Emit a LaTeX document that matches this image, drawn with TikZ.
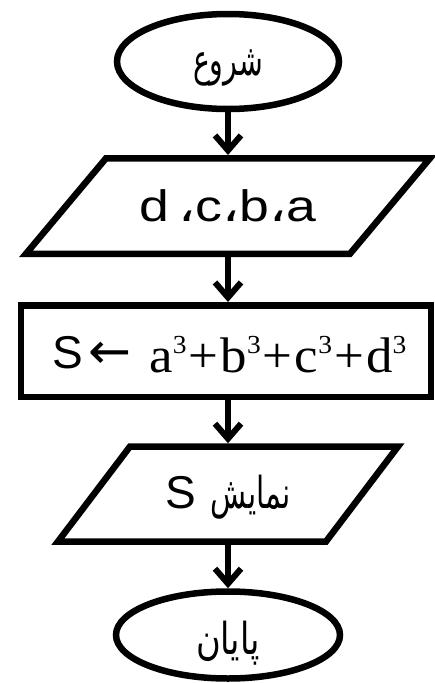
\documentclass[tikz,border=0pt]{standalone}
\usepackage{fontspec}
\usepackage{graphicx}
\setmainfont{Liberation Sans}
\newfontfamily\fa[Script=Arabic]{DejaVu Sans}
\newfontfamily\djv{DejaVu Sans}
\newfontfamily\tms{Liberation Serif}
\usetikzlibrary{shapes.geometric, arrows.meta}
\TeXXeTstate=1
\newcommand\cube{\raisebox{19pt}{\fontsize{26}{26}\selectfont 3}}
\newcommand\fabox[2]{\resizebox{#1}{\height}{\fa\fontsize{44}{44}\selectfont\beginR #2\endR}}
\begin{document}
\begin{tikzpicture}[x=1pt,y=-1pt,
  every node/.style={inner sep=0pt},
  shapeline/.style={line width=6.5pt, line join=miter},
  term/.style={ellipse, draw, shapeline},
  io/.style={outer sep=0pt},
  proc/.style={rectangle, draw, shapeline},
  conn/.style={line width=6pt, -{Straight Barb[length=15pt,width=26pt]}},
  toio/.style={conn, shorten >=3.25pt},
]
\useasboundingbox (0,0) rectangle (434,683);

\node[term, minimum width=222pt, minimum height=95pt, text height=40pt, text depth=13pt] (e1) at (228,61.5)
  {\fabox{70pt}{شروع}};

\node[io, minimum width=324pt, minimum height=95.5pt, text height=31pt, text depth=1pt] (p1) at (228,206)
  {\resizebox{177pt}{\height}{\fontsize{44}{44}\selectfont d\,{\fa ،}c{\fa ،}b{\fa ،}a}};
\draw[shapeline] ([xshift=40pt]p1.north west) -- ([xshift=40pt]p1.north east)
  -- ([xshift=-40pt]p1.south east) -- ([xshift=-40pt]p1.south west) -- cycle;

\node[proc, minimum width=410pt, minimum height=91.5pt, text height=42pt, text depth=0pt] (r) at (226,351)
  {\hspace{7pt}\raisebox{4pt}{\fontsize{46}{46}\selectfont S}\hspace{5pt}\raisebox{4pt}{\resizebox{43pt}{\height}{\djv\fontsize{50}{50}\selectfont ←}}\hspace{18pt}\resizebox{257pt}{\height}{\tms\fontsize{50}{50}\selectfont a\cube\kern2pt+\kern2pt b\cube\kern2pt+\kern2pt c\cube\kern2pt+\kern2pt d\cube}};

\node[io, minimum width=268pt, minimum height=95pt, text height=28pt, text depth=0pt] (p2) at (228,494)
  {\fontsize{46}{46}\selectfont S\hspace{15pt}\fabox{80pt}{نمایش}};
\draw[shapeline] ([xshift=36pt]p2.north west) -- ([xshift=36pt]p2.north east)
  -- ([xshift=-36pt]p2.south east) -- ([xshift=-36pt]p2.south west) -- cycle;

\node[term, minimum width=224pt, minimum height=87pt, text height=40pt, text depth=2pt] (e2) at (228,635)
  {\fabox{64pt}{پایان}};

\draw[toio] (e1.south) -- (e1.south |- p1.north);
\draw[conn] (p1.south) -- (p1.south |- r.north);
\draw[toio] (p2.north |- r.south) -- (p2.north);
\draw[conn] (p2.south) -- (p2.south |- e2.north);
\end{tikzpicture}
\end{document}
